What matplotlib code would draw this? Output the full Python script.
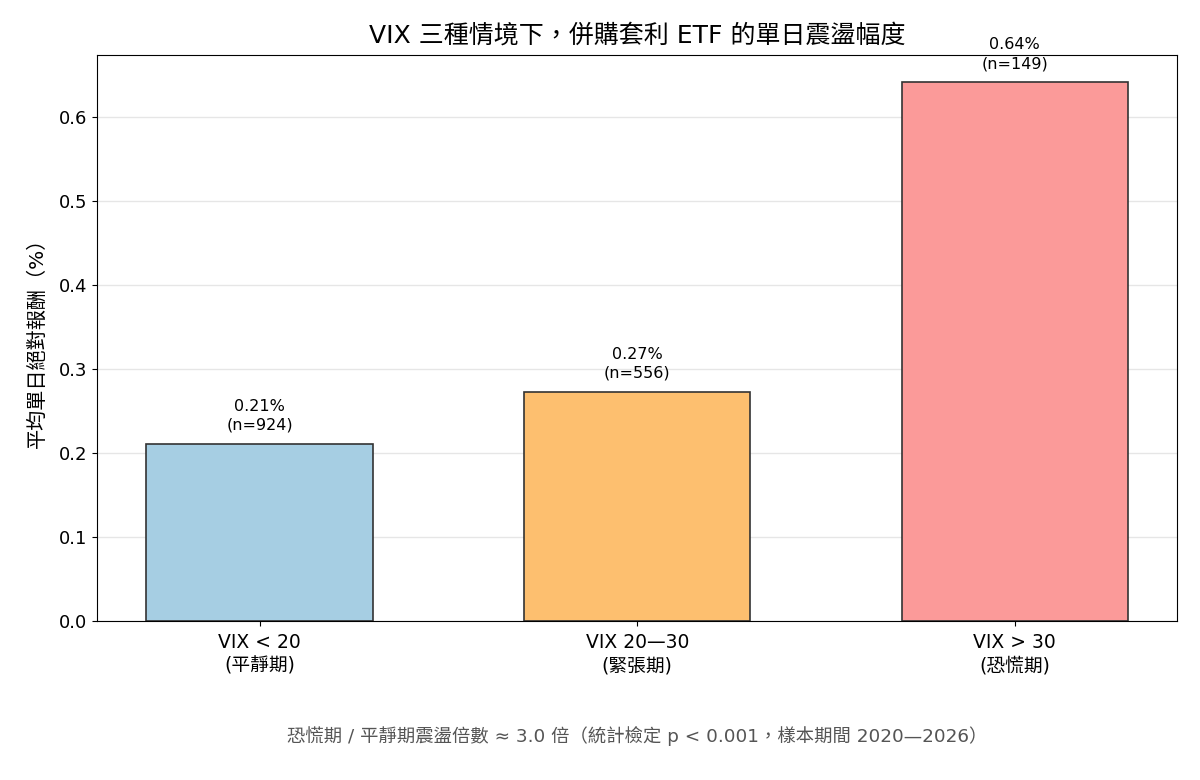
import matplotlib
matplotlib.use("Agg")
import matplotlib.pyplot as plt
import numpy as np

plt.rcParams['font.family'] = ['DejaVu Sans', 'Noto Sans CJK TC']

labels = ['VIX < 20\n(平靜期)', 'VIX 20—30\n(緊張期)', 'VIX > 30\n(恐慌期)']
means = [0.2107, 0.2726, 0.6417]
counts = [924, 556, 149]
colors = ['#a6cee3', '#fdbf6f', '#fb9a99']

fig, ax = plt.subplots(figsize=(12, 7.8), dpi=100)
x = np.arange(len(labels))
bars = ax.bar(x, means, width=0.6, color=colors, edgecolor='#333333', linewidth=1.2)

for b, m, n in zip(bars, means, counts):
    ax.annotate(f'{m:.2f}%\n(n={n})', (b.get_x() + b.get_width() / 2, m),
                xytext=(0, 8), textcoords='offset points',
                ha='center', va='bottom', fontsize=11.5, linespacing=1.35)

ax.set_xticks(x)
ax.set_xticklabels(labels, fontsize=13.5, linespacing=1.3)
ax.tick_params(axis='y', labelsize=13)
ax.tick_params(axis='x', pad=5)
ax.set_ylabel('平均單日絕對報酬（%）', fontsize=14.5, labelpad=9)
ax.set_title('VIX 三種情境下，併購套利 ETF 的單日震盪幅度', fontsize=18, pad=9)
ax.yaxis.grid(True, color='#e6e6e6', linewidth=1)
ax.set_axisbelow(True)

ax.text(0.5, -0.203, '恐慌期 / 平靜期震盪倍數 ≈ 3.0 倍（統計檢定 p < 0.001，樣本期間 2020—2026）',
        transform=ax.transAxes, ha='center', va='center', fontsize=13.2, color='#555555')

fig.subplots_adjust(left=0.081, right=0.981, top=0.929, bottom=0.204)
fig.savefig('out.png', dpi=100)
